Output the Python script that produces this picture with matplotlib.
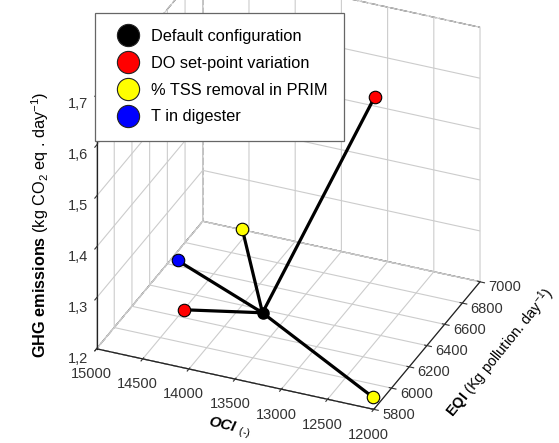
import matplotlib
matplotlib.use("Agg")
import matplotlib.pyplot as plt
from matplotlib.lines import Line2D

plt.rcParams['font.family'] = ['Liberation Sans', 'DejaVu Sans']
plt.rcParams['mathtext.fontset'] = 'custom'
plt.rcParams['mathtext.rm'] = 'Liberation Sans'
plt.rcParams['mathtext.bf'] = 'Liberation Sans:bold'
plt.rcParams['mathtext.it'] = 'Liberation Sans:italic'
plt.rcParams['mathtext.bfit'] = 'Liberation Sans:bold:italic'
plt.rcParams['grid.color'] = '#cccccc'
plt.rcParams['grid.linewidth'] = 0.8

# ---- data ----
series = ["Default configuration", "DO set-point variation",
          "% TSS removal in PRIM", "T in digester"]
colors = ["black", "red", "yellow", "blue"]

default_oci = 13367
default_eqi = 5970
default_ghg = 1.30

do_oci = [14106, 12550]
do_eqi = [5858, 6385]
do_ghg = [1.30, 1.67]

tss_oci = [12100, 13646]
tss_eqi = [5895, 6033]
tss_ghg = [1.20, 1.44]

t_oci = [14194]
t_eqi = [5874]
t_ghg = [1.39]

oci_ticks = [15000, 14500, 14000, 13500, 13000, 12500, 12000]
eqi_ticks = [5800, 6000, 6200, 6400, 6600, 6800, 7000]
ghg_ticks = [1.2, 1.3, 1.4, 1.5, 1.6, 1.7]
ghg_ticklabels = ["1,2", "1,3", "1,4", "1,5", "1,6", "1,7"]

fig = plt.figure(figsize=(5.59, 4.43), dpi=100)
ax = fig.add_axes([0.005, 0.062, 1.0, 1.0], projection='3d', computed_zorder=False)
ax.set_proj_type('ortho')
ax.view_init(elev=30.8, azim=-66.9)
ax.set_box_aspect((1.18, 1.06, 1.16), zoom=1.1)

ax.set_xlim(15000, 12000)
ax.set_ylim(5800, 7000)
ax.set_zlim(1.2, 1.7)
ax.set_xticks(oci_ticks)
ax.set_yticks(eqi_ticks)
ax.set_zticks(ghg_ticks)
ax.set_zticklabels(ghg_ticklabels)
ax.zaxis.set_ticks_position('lower')
ax.zaxis.set_label_position('lower')

for axis in (ax.xaxis, ax.yaxis, ax.zaxis):
    axis.set_pane_color((1, 1, 1, 1))
    axis.pane.set_edgecolor('#444444')
    axis.pane.set_linestyle((0, (6, 2)))
    axis.pane.set_linewidth(0.9)
    axis.line.set_color('#222222')
    axis.line.set_linewidth(0.9)
ax.tick_params(labelsize=10.5, colors='#333333', pad=0)
ax.yaxis.set_tick_params(pad=-3)
for lab in ax.get_yticklabels():
    lab.set_horizontalalignment('left')
    lab.set_verticalalignment('baseline')

# connecting lines
groups = [(do_oci, do_eqi, do_ghg), (tss_oci, tss_eqi, tss_ghg), (t_oci, t_eqi, t_ghg)]
for (xs, ys, zs) in groups:
    for x, y, z in zip(xs, ys, zs):
        ax.plot([default_oci, x], [default_eqi, y], [default_ghg, z],
                color='black', lw=2.3, zorder=3)

for (xs, ys, zs), c in zip(groups, colors[1:]):
    ax.plot(xs, ys, zs, linestyle='none', marker='o', markersize=9,
            markerfacecolor=c, markeredgecolor='black', markeredgewidth=0.8, zorder=5)
ax.plot([default_oci], [default_eqi], [default_ghg], linestyle='none', marker='o',
        markersize=8, markerfacecolor='black', markeredgecolor='black', zorder=6)

handles = [Line2D([], [], linestyle='none', marker='o', markersize=16,
                  markerfacecolor=c, markeredgecolor='#222222', markeredgewidth=0.8)
           for c in colors]
leg = fig.legend(handles, series, loc='upper left', bbox_to_anchor=(0.155, 0.99),
                 frameon=True, fancybox=False, framealpha=1, edgecolor='#666666',
                 fontsize=11.8, handletextpad=0.45, labelspacing=0.72, borderpad=1.0)
leg.get_frame().set_linewidth(0.9)
leg.set_zorder(10)

fig.text(0.072, 0.492, r"$\mathbf{GHG\ emissions}$ (kg CO$_2$ eq . day$^{-1}$)",
         rotation=90, ha='center', va='center', fontsize=11.7)
fig.text(0.41, 0.033, r"$\mathbfit{OCI}$ $_{(\text{-})}$", rotation=-13,
         ha='center', va='center', fontsize=11)
fig.text(0.894, 0.203, r"$\mathbf{EQI}$ (Kg pollution. day$^{-1}$)", rotation=51,
         ha='center', va='center', fontsize=10.5)

fig.savefig("out.png", dpi=100)
